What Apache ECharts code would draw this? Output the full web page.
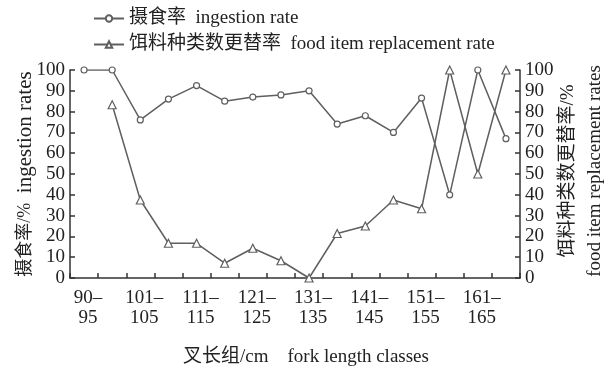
<!DOCTYPE html>
<html>
<head>
<meta charset="utf-8">
<script src="https://cdn.jsdelivr.net/npm/echarts@6/dist/echarts.min.js"></script>
<style>
  html, body { margin: 0; padding: 0; background: #fff; }
  #chart { width: 608px; height: 368px; }
</style>
</head>
<body>
<div id="chart"></div>
<script>
// Fork length classes (cm)
var lengthClasses = ['90–95', '96–100', '101–105', '106–110', '111–115', '116–120',
  '121–125', '126–130', '131–135', '136–140', '141–145', '146–150',
  '151–155', '156–160', '161–165', '166–170'];

// Ingestion rate (%)
var ingestionRate = [100, 100, 76, 86, 92.5, 85, 87, 88, 90, 74, 78, 70, 86.5, 40, 100, 67];

// Food item replacement rate (%)
var replacementRate = [null, 83.3, 37.5, 16.7, 16.7, 7.1, 14.3, 8.3, 0, 21.4, 25, 37.5, 33.3, 100, 50, 100];

var rateTicks = { min: 0, max: 100, interval: 10 };

var FONT = "'Liberation Serif', 'Noto Sans CJK SC', serif";
var INK = '#222';
var LINE = '#5f5f5f';

var chart = echarts.init(document.getElementById('chart'), null, { renderer: 'canvas' });

function valueAxis(pos, name, nameGap, nameStyle) {
  return {
    type: 'value',
    position: pos,
    min: rateTicks.min,
    max: rateTicks.max,
    interval: rateTicks.interval,
    name: name,
    nameLocation: 'middle',
    nameRotate: 90,
    nameGap: nameGap,
    nameMoveOverlap: false,
    nameTextStyle: Object.assign({ fontFamily: FONT, fontSize: 19, color: INK, lineHeight: 27 }, nameStyle),
    axisLine: { show: true, lineStyle: { color: '#333', width: 1.5 } },
    axisTick: { show: true, inside: true, length: 5, lineStyle: { color: '#333', width: 1.5 } },
    axisLabel: { fontFamily: FONT, fontSize: 19, color: INK, margin: 5 },
    splitLine: { show: false }
  };
}

chart.setOption({
  animation: false,
  backgroundColor: '#fff',
  grid: { left: 70, right: 88, top: 70, bottom: 90, containLabel: false, outerBoundsMode: 'none' },
  legend: {
    orient: 'vertical',
    left: 88,
    top: 4,
    itemWidth: 30,
    itemHeight: 8,
    itemGap: 7,
    textStyle: { fontFamily: FONT, fontSize: 19, color: INK },
    data: ['摄食率  ingestion rate', '饵料种类数更替率  food item replacement rate']
  },
  xAxis: {
    type: 'category',
    data: lengthClasses,
    boundaryGap: true,
    name: '叉长组/cm    fork length classes',
    nameLocation: 'middle',
    nameGap: 70,
    nameTextStyle: { fontFamily: FONT, fontSize: 19, color: INK, padding: [0, 0, 0, 22] },
    axisLine: { lineStyle: { color: '#333', width: 1.5 } },
    axisTick: { show: true, inside: true, length: 5, interval: 0, lineStyle: { color: '#333', width: 1.5 } },
    axisLabel: {
      interval: 1,
      fontFamily: FONT,
      fontSize: 19,
      color: INK,
      margin: 10,
      lineHeight: 20,
      padding: [0, 0, 0, 8],
      formatter: function (v) { return v.replace('–', '–\n'); }
    },
    splitLine: { show: false }
  },
  yAxis: [
    valueAxis('left', '{c|摄食率/%}  {e|ingestion rates}', 31, {
      rich: {
        c: { fontFamily: FONT, fontSize: 18, color: INK, lineHeight: 27 },
        e: { fontFamily: FONT, fontSize: 21, color: INK, lineHeight: 27 }
      }
    }),
    valueAxis('right', '饵料种类数更替率/%\nfood item replacement rates', 35, { padding: [0, 0, 0, 6] })
  ],
  series: [
    {
      name: '摄食率  ingestion rate',
      type: 'line',
      yAxisIndex: 0,
      data: ingestionRate,
      symbol: 'circle',
      symbolSize: 6,
      lineStyle: { color: LINE, width: 1.5 },
      itemStyle: { color: '#fff', borderColor: LINE, borderWidth: 1.2 }
    },
    {
      name: '饵料种类数更替率  food item replacement rate',
      type: 'line',
      yAxisIndex: 1,
      data: replacementRate,
      symbol: 'triangle',
      symbolSize: 8,
      lineStyle: { color: LINE, width: 1.5 },
      itemStyle: { color: '#fff', borderColor: LINE, borderWidth: 1.2 }
    }
  ]
});
</script>
</body>
</html>
